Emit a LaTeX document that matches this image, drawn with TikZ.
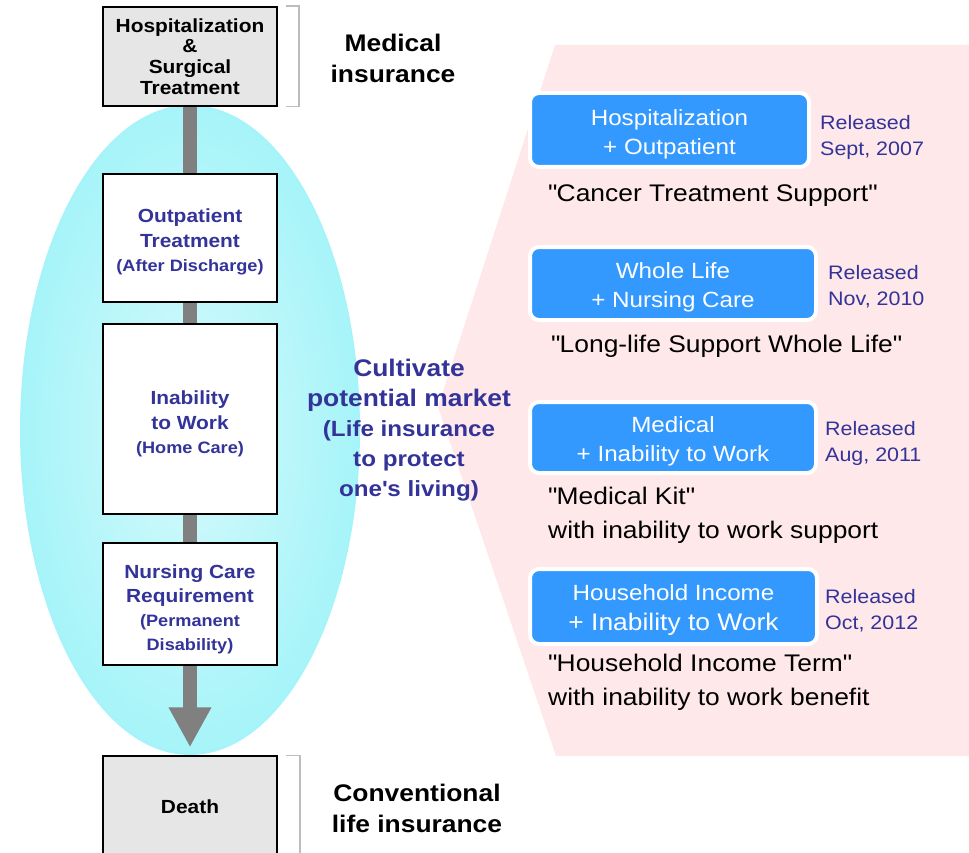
\documentclass[tikz,border=0pt]{standalone}
\usepackage{fontspec}
\setmainfont{Liberation Sans}[FakeStretch=1.1]
\usetikzlibrary{arrows.meta,backgrounds}
\definecolor{pinkbg}{HTML}{FEE8E9}
\definecolor{cyanout}{HTML}{A6F4F9}
\definecolor{cyanin}{HTML}{D6FAFC}
\definecolor{boxblue}{HTML}{3399FF}
\definecolor{navy}{HTML}{333399}
\definecolor{stepgray}{HTML}{E6E6E6}
\definecolor{bargray}{HTML}{808080}
\definecolor{brackgray}{HTML}{BDBDBD}
\newcommand\subsize{\fontsize{16.5}{24}\selectfont}
\newcommand\qq{\textquotedbl}
\begin{document}
\begin{tikzpicture}[x=1pt,y=-1pt,
  stagebox/.style={draw=black, line width=1.5pt, minimum width=174pt, inner sep=0pt,
    align=center, font=\bfseries\fontsize{19}{24.5}\selectfont},
  stagetxt/.style={align=center, inner sep=0pt, text=navy, font=\bfseries\fontsize{19}{24.5}\selectfont},
  bar/.style={draw=bargray, line width=14pt},
  brack/.style={draw=brackgray, line width=1.5pt},
  headlbl/.style={align=center, inner sep=0pt, font=\bfseries\fontsize{24}{31}\selectfont},
  prod/.style={draw=white, line width=4pt, fill=boxblue, rounded corners=9pt, inner sep=0pt},
  prodtxt/.style={text=white, align=center, inner sep=0pt, yshift=-4pt, font=\fontsize{22}{29}\selectfont},
  rel/.style={text=navy, align=left, anchor=west, inner sep=0pt, font=\fontsize{19.5}{26}\selectfont},
  qt/.style={anchor=west, align=left, inner sep=0pt, font=\fontsize{24}{34}\selectfont}
]
\useasboundingbox (0,0) rectangle (969,853);
\clip (0,0) rectangle (969,853);

% life-stage boxes
\node[stagebox, fill=stepgray, minimum height=99pt, font=\bfseries\fontsize{19}{20.7}\selectfont] (hosp) at (190,56.5)
  {Hospitalization\\\&\\Surgical\\Treatment};
\node[stagebox, fill=white, minimum height=128pt,
  label={[stagetxt, yshift=-4pt]center:{Outpatient\\Treatment\\{\subsize (After Discharge)}}}] (outp) at (190,238) {};
\node[stagebox, fill=white, minimum height=190pt,
  label={[stagetxt, yshift=-5pt]center:{Inability\\to Work\\{\subsize (Home Care)}}}] (work) at (190,419) {};
\node[stagebox, fill=white, minimum height=122pt,
  label={[stagetxt, yshift=-5.5pt, font=\bfseries\fontsize{19}{24}\selectfont]center:{Nursing Care\\Requirement\\{\subsize (Permanent}\\{\subsize Disability)}}}] (nurs) at (190,604) {};
\node[stagebox, fill=stepgray, minimum height=100pt,
  label={[stagetxt, text=black, yshift=-1pt]center:Death}] (death) at (190,806) {};

\begin{pgfonlayer}{background}
  % market area and the cultivated region
  \fill[pinkbg] (555,45) -- (969,45) -- (969,756) -- (556,756) -- (438,407) -- cycle;
  \fill[cyanout] (190,430) ellipse [x radius=170pt, y radius=325pt];
  \shade[inner color=cyanin, outer color=cyanout] (190,430) ellipse [x radius=169pt, y radius=324pt];
  % flow between stages
  \draw[bar] (hosp.south) -- (outp.north);
  \draw[bar] (outp.south) -- (work.north);
  \draw[bar] (work.south) -- (nurs.north);
  \draw[bar, -{Triangle[width=40pt,length=40pt]}, shorten >=8pt] (nurs.south) -- (death.north);
\end{pgfonlayer}

% brackets
\draw[brack] ([xshift=8pt]hosp.north east) -- ++(13,0) |- ([xshift=8pt]hosp.south east);
\draw[brack] ([xshift=8pt]death.north east) -- ++(14,0) -- ++(0,110);

\node[headlbl] (medlbl) at (393,58) {Medical\\insurance};
\node[headlbl] (convlbl) at (417,808.5) {Conventional\\life insurance};

\node[align=center, inner sep=0pt, text=navy, font=\bfseries\fontsize{22}{30}\selectfont] (market) at (409,430)
  {{\fontsize{24}{30}\selectfont Cultivate}\\{\fontsize{24}{30}\selectfont potential market}\\(Life insurance\\to protect\\one\textquotesingle s living)};

% products
\node[prod, minimum width=279pt, minimum height=74pt,
  label={[prodtxt]center:{Hospitalization\\+ Outpatient}}] (p1) at (669.5,130) {};
\node[prod, minimum width=286pt, minimum height=73pt,
  label={[prodtxt]center:{Whole Life\\+ Nursing Care}}] (p2) at (673,283.5) {};
\node[prod, minimum width=286pt, minimum height=71pt,
  label={[prodtxt]center:{Medical\\+ Inability to Work}}] (p3) at (673,437.5) {};
\node[prod, minimum width=287pt, minimum height=75pt,
  label={[prodtxt, font=\fontsize{22}{30}\selectfont]center:{Household Income\\{\fontsize{24}{30}\selectfont + Inability to Work}}}] (p4) at (673.5,606.5) {};

\node[rel] (r1) at (820,137) {Released\\Sept, 2007};
\node[rel] (r2) at (828,287) {Released\\Nov, 2010};
\node[rel] (r3) at (825,443.5) {Released\\Aug, 2011};
\node[rel] (r4) at (825,610.5) {Released\\Oct, 2012};

\node[qt] (q1) at (548,196) {\qq Cancer Treatment Support\qq};
\node[qt] (q2) at (551,346) {\qq Long-life Support Whole Life\qq};
\node[qt] (q3) at (548,515) {\qq Medical Kit\qq\\with inability to work support};
\node[qt] (q4) at (548,682) {\qq Household Income Term\qq\\with inability to work benefit};
\end{tikzpicture}
\end{document}
